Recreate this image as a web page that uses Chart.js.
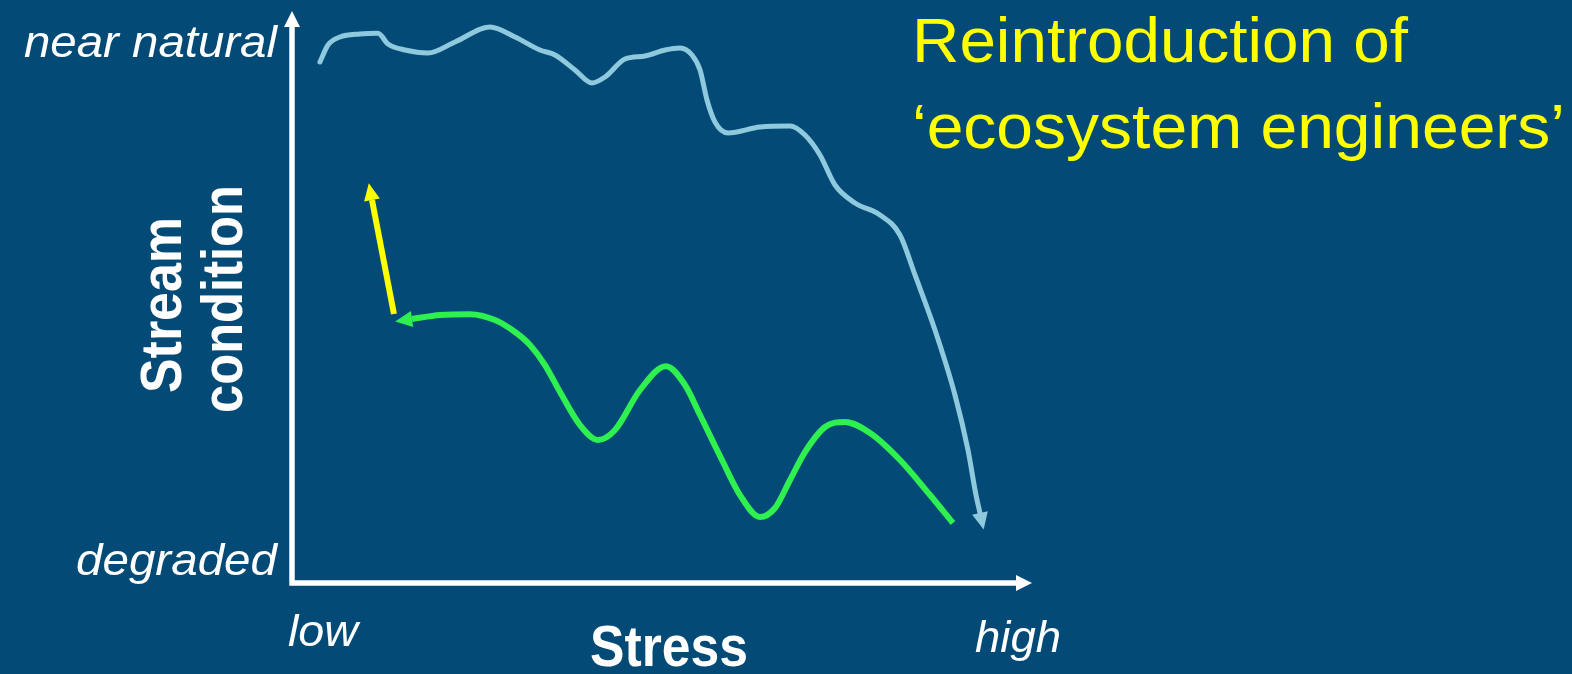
<!DOCTYPE html>
<html>
<head>
<meta charset="utf-8">
<script src="https://cdn.jsdelivr.net/npm/chart.js@4.4.1/dist/chart.umd.min.js"></script>
<style>
  html, body { margin: 0; padding: 0; background: #034B76; overflow: hidden; }
  #wrap { width: 1572px; height: 674px; }
</style>
</head>
<body>
<div id="wrap"><canvas id="c" width="1572" height="674"></canvas></div>
<script>
// ---- data (x: stress 0=low .. 100=high, y: stream condition 0=degraded .. 100=near natural) ----
const xTickLabels = ['low', 'high'];
const yTickLabels = ['degraded', 'near natural'];
const xAxisTitle = 'Stress';
const yAxisTitle = ['Stream', 'condition'];
const annotationLines = ['Reintroduction of', '\u2018ecosystem engineers\u2019'];

const degradationX = [3.78, 4.86, 6.49, 9.19, 11.62, 12.97, 15.27, 18.38, 22.03, 26.76, 30.14, 33.51, 35.54, 38.24, 40.54, 42.30, 45.0, 47.70, 50.41, 52.43, 54.05, 55.14, 56.08, 57.16, 58.92, 63.24, 67.30, 69.32, 71.35, 73.38, 76.08, 79.46, 82.16, 84.19, 86.89, 89.59, 91.35, 92.43, 92.97];
const degradationY = [91.08, 94.06, 95.45, 95.98, 96.10, 94.23, 93.18, 92.66, 94.58, 97.20, 95.45, 93.18, 92.31, 89.69, 87.41, 88.46, 91.60, 92.13, 93.18, 93.53, 92.31, 89.69, 84.44, 80.59, 78.67, 79.72, 79.90, 78.32, 74.83, 69.58, 66.43, 64.34, 60.84, 53.85, 44.23, 32.87, 23.25, 15.38, 12.24];

const recoveryX = [16.22, 20.0, 24.05, 27.43, 30.14, 32.16, 34.19, 36.22, 38.92, 41.35, 43.65, 47.03, 50.54, 53.11, 55.14, 58.11, 60.54, 63.24, 65.27, 67.30, 69.32, 72.03, 74.73, 78.11, 82.16, 86.22, 89.32];
const recoveryY = [46.15, 46.85, 47.00, 45.98, 43.88, 41.61, 38.11, 33.39, 27.62, 25.0, 26.75, 33.74, 37.90, 34.62, 29.37, 21.50, 15.38, 11.54, 13.11, 18.01, 22.90, 27.27, 28.15, 26.22, 21.50, 15.38, 10.49];

const reintroX = [13.78, 10.81];
const reintroY = [47.03, 66.96];

function pts(xs, ys) { return xs.map((x, i) => ({ x: x, y: ys[i] })); }

const BG = '#034B76';
const WHITE = '#FFFFFF';
const BLUE = '#8FC9DE';
const GREEN = '#2EF04E';
const YELLOW = '#FFFF00';
const FONT = '"Liberation Sans", Arial, Helvetica, sans-serif';

function arrowHead(ctx, fromX, fromY, dirX, dirY, len, halfW, color) {
  const d = Math.hypot(dirX, dirY) || 1;
  const ux = dirX / d, uy = dirY / d;
  const tx = fromX + ux * len, ty = fromY + uy * len;
  const px = -uy, py = ux;
  ctx.save();
  ctx.fillStyle = color;
  ctx.beginPath();
  ctx.moveTo(tx, ty);
  ctx.lineTo(fromX + px * halfW, fromY + py * halfW);
  ctx.lineTo(fromX - px * halfW, fromY - py * halfW);
  ctx.closePath();
  ctx.fill();
  ctx.restore();
}

function fitText(ctx, text, x, y, font, align, width, color, rotate) {
  ctx.save();
  ctx.font = font;
  ctx.fillStyle = color;
  ctx.textBaseline = 'alphabetic';
  const w = ctx.measureText(text).width;
  const s = width ? width / w : 1;
  ctx.translate(x, y);
  if (rotate) ctx.rotate(rotate);
  ctx.scale(s, 1);
  ctx.textAlign = align;
  ctx.fillText(text, 0, 0);
  ctx.restore();
}

const decorPlugin = {
  id: 'decor',
  beforeDraw(chart) {
    const ctx = chart.ctx;
    ctx.save();
    ctx.fillStyle = BG;
    ctx.fillRect(0, 0, chart.width, chart.height);
    ctx.restore();
  },
  afterDatasetsDraw(chart) {
    const ctx = chart.ctx;
    const a = chart.chartArea;
    // axes
    ctx.save();
    ctx.strokeStyle = WHITE;
    ctx.lineWidth = 5.5;
    ctx.lineCap = 'butt';
    ctx.lineJoin = 'miter';
    ctx.beginPath();
    ctx.moveTo(a.left, a.top + 16);
    ctx.lineTo(a.left, a.bottom);
    ctx.lineTo(a.right - 16, a.bottom);
    ctx.stroke();
    ctx.restore();
    arrowHead(ctx, a.left, a.top + 16, 0, -1, 16, 8, WHITE);
    arrowHead(ctx, a.right - 16, a.bottom, 1, 0, 16, 8, WHITE);

    // arrowheads on the curves
    chart.data.datasets.forEach((ds, i) => {
      const meta = chart.getDatasetMeta(i);
      const p = meta.data;
      if (!p || p.length < 2) return;
      if (ds.arrowAt === 'end') {
        const a1 = p[p.length - 1], a0 = p[p.length - 2];
        arrowHead(ctx, a1.x, a1.y, a1.x - a0.x, a1.y - a0.y, 17, 8, ds.borderColor);
      } else if (ds.arrowAt === 'start') {
        const a1 = p[0], a0 = p[1];
        arrowHead(ctx, a1.x, a1.y, a1.x - a0.x, a1.y - a0.y, 17, 8, ds.borderColor);
      }
    });

    // texts
    const it = (sz) => 'italic ' + sz + 'px ' + FONT;
    const bd = (sz) => 'bold ' + sz + 'px ' + FONT;
    fitText(ctx, yTickLabels[1], 277, 57, it(45), 'right', 253, WHITE);
    fitText(ctx, yTickLabels[0], 277, 575, it(45), 'right', 201, WHITE);
    fitText(ctx, xTickLabels[0], 288, 646, it(44), 'left', 70, WHITE);
    fitText(ctx, xTickLabels[1], 975, 652, it(44), 'left', 86, WHITE);
    fitText(ctx, xAxisTitle, 669, 666, bd(57), 'center', 158, WHITE);
    fitText(ctx, yAxisTitle[0], 181, 305, bd(57), 'center', 176, WHITE, -Math.PI / 2);
    fitText(ctx, yAxisTitle[1], 242, 299, bd(57), 'center', 228, WHITE, -Math.PI / 2);
    fitText(ctx, annotationLines[0], 912, 62, 'normal 63px ' + FONT, 'left', 496, YELLOW);
    fitText(ctx, annotationLines[1], 912, 148, 'normal 63px ' + FONT, 'left', 653, YELLOW);
  }
};

new Chart(document.getElementById('c'), {
  type: 'scatter',
  data: {
    datasets: [
      { label: 'degradation', data: pts(degradationX, degradationY), showLine: true, borderColor: BLUE, borderWidth: 5, cubicInterpolationMode: 'monotone', pointRadius: 0, borderCapStyle: 'round', borderJoinStyle: 'round', arrowAt: 'end' },
      { label: 'recovery', data: pts(recoveryX, recoveryY), showLine: true, borderColor: GREEN, borderWidth: 6, cubicInterpolationMode: 'monotone', pointRadius: 0, borderCapStyle: 'butt', borderJoinStyle: 'round', arrowAt: 'start' },
      { label: 'reintroduction', data: pts(reintroX, reintroY), showLine: true, borderColor: YELLOW, borderWidth: 6, tension: 0, pointRadius: 0, borderCapStyle: 'butt', arrowAt: 'end' }
    ]
  },
  options: {
    responsive: false,
    animation: false,
    layout: { padding: { left: 292, right: 540, top: 11, bottom: 91 } },
    scales: {
      x: { type: 'linear', min: 0, max: 100, display: false },
      y: { type: 'linear', min: 0, max: 100, display: false }
    },
    plugins: { legend: { display: false }, tooltip: { enabled: false } }
  },
  plugins: [decorPlugin]
});
</script>
</body>
</html>
